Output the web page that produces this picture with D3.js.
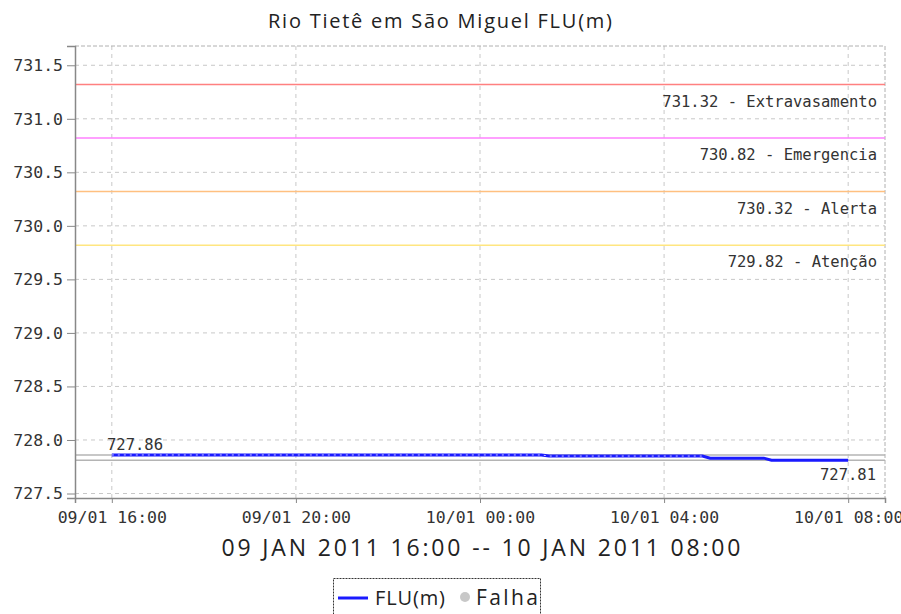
<!DOCTYPE html>
<html>
<head>
<meta charset="utf-8">
<script src="https://cdn.jsdelivr.net/npm/d3@7"></script>
<style>
  body { margin: 0; background: #fff; }
  svg { display: block; }
</style>
</head>
<body>
<div class="chart"></div>
<script>
// data
const title = "Rio Tietê em São Miguel FLU(m)";
const periodLabel = "09 JAN 2011 16:00 -- 10 JAN 2011 08:00";
const yTicks = [727.5, 728.0, 728.5, 729.0, 729.5, 730.0, 730.5, 731.0, 731.5];
const xTicks = ["2011-01-09 16:00", "2011-01-09 20:00", "2011-01-10 00:00", "2011-01-10 04:00", "2011-01-10 08:00"];
const thresholdValues = [731.32, 730.82, 730.32, 729.82];
const thresholdNames = ["Extravasamento", "Emergencia", "Alerta", "Atenção"];
const thresholdColors = ["#ff8080", "#ff80ff", "#ffc080", "#ffe680"];
const fluTimes = ["2011-01-09 16:00", "2011-01-10 01:20", "2011-01-10 01:30", "2011-01-10 04:50", "2011-01-10 05:00", "2011-01-10 06:10", "2011-01-10 06:20", "2011-01-10 08:00"];
const fluValues = [727.86, 727.86, 727.85, 727.85, 727.83, 727.83, 727.81, 727.81];
const fluMax = 727.86;
const fluMin = 727.81;
const legendNames = ["FLU(m)", "Falha"];

const width = 901;
const height = 614;
const plot = {left: 75, right: 885, top: 46, bottom: 498};

const parse = d3.timeParse("%Y-%m-%d %H:%M");
const fmt = d3.timeFormat("%d/%m %H:%M");

const svg = d3.select(".chart").append("svg")
  .attr("width", width)
  .attr("height", height)
  .style("background", "#fff");

const x = d3.scaleTime()
  .domain([parse("2011-01-09 15:12"), parse("2011-01-10 08:48")])
  .range([plot.left, plot.right]);

const y = d3.scaleLinear()
  .domain([727.458, 731.68])
  .range([plot.bottom, plot.top]);

const mono = "'DejaVu Sans Mono', monospace";
const sans = "'Open Sans', sans-serif";

// title
svg.append("text")
  .attr("x", 440)
  .attr("y", 28)
  .attr("text-anchor", "middle")
  .attr("textLength", 344)
  .attr("lengthAdjust", "spacing")
  .style("font-family", sans)
  .style("font-size", "20px")
  .attr("fill", "#222")
  .text(title);

// grid
const grid = svg.append("g");
grid.selectAll(".hg")
  .data(yTicks)
  .enter().append("line")
  .attr("x1", plot.left).attr("x2", plot.right)
  .attr("y1", d => y(d)).attr("y2", d => y(d))
  .attr("stroke", "#c8c8c8")
  .attr("stroke-dasharray", "4,4");

grid.selectAll(".vg")
  .data(xTicks.map(parse))
  .enter().append("line")
  .attr("x1", d => x(d)).attr("x2", d => x(d))
  .attr("y1", plot.top).attr("y2", plot.bottom)
  .attr("stroke", "#c8c8c8")
  .attr("stroke-dasharray", "4,4");

// outline top/right
svg.append("path")
  .attr("d", `M${plot.left},${plot.top}H${plot.right}V${plot.bottom}`)
  .attr("fill", "none")
  .attr("stroke", "#b0b0b0")
  .attr("stroke-dasharray", "4,2");

// threshold lines
thresholdValues.forEach(function(v, i) {
  svg.append("line")
    .attr("x1", plot.left).attr("x2", plot.right)
    .attr("y1", y(v)).attr("y2", y(v))
    .attr("stroke", thresholdColors[i])
    .attr("stroke-width", 1.5);

  svg.append("text")
    .attr("x", 877)
    .attr("y", y(v) + 22)
    .attr("text-anchor", "end")
    .style("font-family", mono)
    .style("font-size", "15.5px")
    .attr("fill", "#333")
    .text(v.toFixed(2) + " - " + thresholdNames[i]);
});

// max / min reference lines
[fluMax, fluMin].forEach(function(v) {
  svg.append("line")
    .attr("x1", plot.left).attr("x2", plot.right)
    .attr("y1", y(v)).attr("y2", y(v))
    .attr("stroke", "#b4b4b4")
    .attr("stroke-width", 1.5);
});

// series
const flu = fluTimes.map((t, i) => ({t: parse(t), v: fluValues[i]}));
const line = d3.line()
  .x(d => x(d.t))
  .y(d => y(d.v));

svg.append("path")
  .datum(flu)
  .attr("d", line)
  .attr("fill", "none")
  .attr("stroke", "#1a1aff")
  .attr("stroke-width", 3);

svg.append("path")
  .datum(flu.slice(0, 4))
  .attr("d", line)
  .attr("fill", "none")
  .attr("stroke", "#fff")
  .attr("stroke-opacity", 0.75)
  .attr("stroke-width", 1)
  .attr("stroke-dasharray", "2,4");

svg.append("text")
  .attr("x", 107)
  .attr("y", y(fluMax) - 5)
  .style("font-family", mono)
  .style("font-size", "15.5px")
  .attr("fill", "#333")
  .text(fluMax.toFixed(2));

svg.append("text")
  .attr("x", 876)
  .attr("y", y(fluMin) + 20)
  .attr("text-anchor", "end")
  .style("font-family", mono)
  .style("font-size", "15.5px")
  .attr("fill", "#333")
  .text(fluMin.toFixed(2));

// axes
const yAxis = svg.append("g")
  .attr("transform", "translate(" + plot.left + ",0)")
  .call(d3.axisLeft(y).tickValues(yTicks).tickFormat(d3.format(".1f")).tickSize(8).tickPadding(4));

const xAxis = svg.append("g")
  .attr("transform", "translate(0," + plot.bottom + ")")
  .call(d3.axisBottom(x).tickValues(xTicks.map(parse)).tickFormat(fmt).tickSize(5).tickPadding(8));

[yAxis, xAxis].forEach(function(a) {
  a.select(".domain").attr("stroke", "#888").attr("stroke-width", 1.5);
  a.selectAll(".tick line").attr("stroke", "#888");
  a.selectAll(".tick text")
    .style("font-family", mono)
    .style("font-size", "16.5px")
    .attr("fill", "#333");
});

svg.append("text")
  .attr("x", 481)
  .attr("y", 556)
  .attr("text-anchor", "middle")
  .attr("textLength", 519)
  .attr("lengthAdjust", "spacing")
  .style("font-family", sans)
  .style("font-size", "23px")
  .attr("fill", "#222")
  .text(periodLabel);

// legend
const legend = svg.append("g");
legend.append("rect")
  .attr("x", 333.5).attr("y", 578.5)
  .attr("width", 207).attr("height", 45)
  .attr("fill", "#fff")
  .attr("stroke", "#333")
  .attr("stroke-dasharray", "2,1");

legend.append("line")
  .attr("x1", 338).attr("x2", 368)
  .attr("y1", 598).attr("y2", 598)
  .attr("stroke", "#1a1aff")
  .attr("stroke-width", 3);

legend.append("text")
  .attr("x", 375).attr("y", 605)
  .attr("textLength", 70)
  .attr("lengthAdjust", "spacing")
  .style("font-family", sans)
  .style("font-size", "20px")
  .attr("fill", "#222")
  .text(legendNames[0]);

legend.append("circle")
  .attr("cx", 465).attr("cy", 597)
  .attr("r", 5)
  .attr("fill", "#c8c8c8");

legend.append("text")
  .attr("x", 476).attr("y", 605)
  .attr("textLength", 62)
  .attr("lengthAdjust", "spacing")
  .style("font-family", sans)
  .style("font-size", "21px")
  .attr("fill", "#222")
  .text(legendNames[1]);
</script>
</body>
</html>
